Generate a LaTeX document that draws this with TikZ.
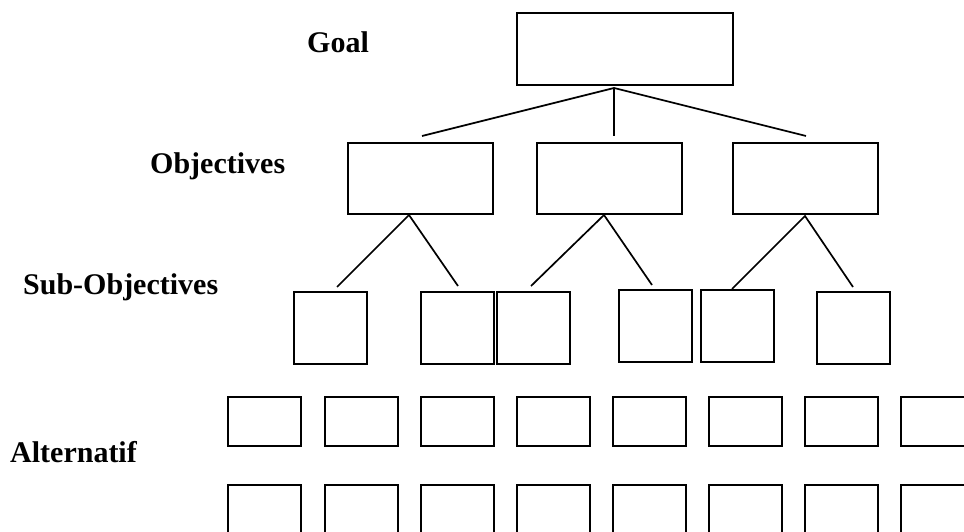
\documentclass[tikz,border=0pt]{standalone}
\usepackage{fontspec}
\setmainfont{Liberation Serif}
\usetikzlibrary{calc}
\tikzset{
  box/.style={draw=black, line width=2pt, inner sep=0pt, fill=none},
  goalbox/.style={box, minimum width=216pt, minimum height=72pt},
  objbox/.style={box, minimum width=145pt, minimum height=71pt},
  subbox/.style={box, minimum width=73pt, minimum height=72pt},
  altbox/.style={box, minimum width=73pt, minimum height=49pt},
  link/.style={draw=black, line width=1.7pt},
  level/.style={anchor=base west, inner sep=0pt, font=\fontsize{30pt}{36pt}\selectfont\bfseries}
}
\begin{document}
\begin{tikzpicture}[x=1pt, y=-1pt]
  \useasboundingbox (0,0) rectangle (964,532);
  \clip (0,0) rectangle (964,532);
  \fill[white] (0,0) rectangle (964,532);

  % level labels
  \node[level] (lgoal) at (307,53) {Goal};
  \node[level] (lobj)  at (150,174) {Objectives};
  \node[level] (lsub)  at (23,294) {Sub-Objectives};
  \node[level] (lalt)  at (10,462) {Alternatif};

  % goal
  \node[goalbox] (goal) at (625,49) {};

  % objectives
  \node[objbox] (o1) at (420.5,178.5) {};
  \node[objbox] (o2) at (609.5,178.5) {};
  \node[objbox] (o3) at (805,178.5) {};

  % sub-objectives
  \node[subbox] (s1) at (330.5,328) {};
  \node[subbox] (s2) at (457,328) {};
  \node[subbox] (s3) at (533.5,328) {};
  \node[subbox] (s4) at (655.5,326) {};
  \node[subbox] (s5) at (737.5,326) {};
  \node[subbox] (s6) at (853.5,328) {};

  % alternatives, two rows of eight
  \foreach \i/\x in {1/264.5,2/361,3/457,4/553,5/649,6/745,7/841.5,8/937.5}{
    \node[altbox] (a\i) at (\x,421.5) {};
    \node[altbox] (b\i) at (\x,509.5) {};
  }

  % branch points and line ends
  \coordinate (gfoot) at (614,88);
  \coordinate (o1top) at (422,136);
  \coordinate (o2top) at (614,136);
  \coordinate (o3top) at (806,136);

  \coordinate (o1foot) at (409,215);
  \coordinate (o2foot) at (604,215);
  \coordinate (o3foot) at (805,216);

  \coordinate (s1top) at (337,287);
  \coordinate (s2top) at (458,286);
  \coordinate (s3top) at (531,286);
  \coordinate (s4top) at (652,285);
  \coordinate (s5top) at (732,289);
  \coordinate (s6top) at (853,287);

  % connectors
  \draw[link] (o1top) -- (gfoot) -- (o3top);
  \draw[link] (gfoot) -- (o2top);

  \draw[link] (s1top) -- (o1foot) -- (s2top);
  \draw[link] (s3top) -- (o2foot) -- (s4top);
  \draw[link] (s5top) -- (o3foot) -- (s6top);
\end{tikzpicture}
\end{document}
